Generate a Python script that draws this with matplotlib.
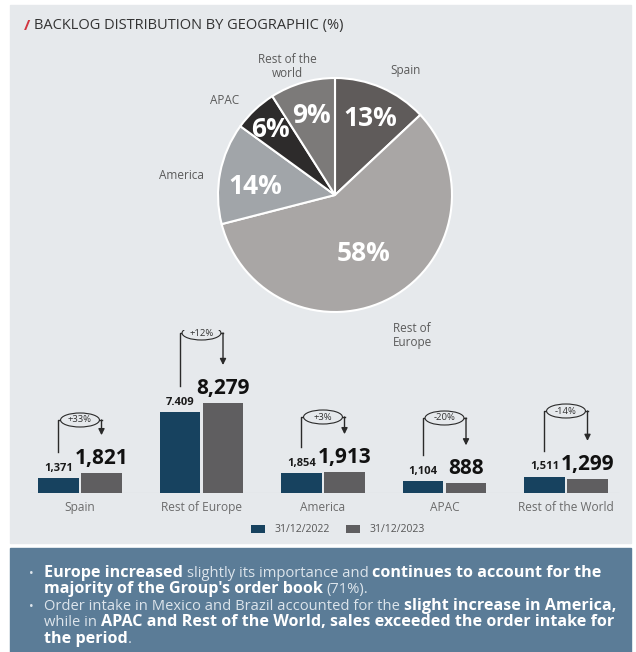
import matplotlib
matplotlib.use('Agg')
import matplotlib.pyplot as plt
from matplotlib.patches import Rectangle, Ellipse
import numpy as np

plt.rcParams['font.family'] = ['Open Sans', 'DejaVu Sans']

W, H = 636, 652

# pie: backlog share by geography (%)
pie_labels = ['Spain', 'Rest of\nEurope', 'America', 'APAC', 'Rest of the\nworld']
pie_shares = [13, 58, 14, 6, 9]
pie_colors = ['#5f5b5a', '#a9a6a5', '#a1a5a9', '#2d2b2b', '#7c7a79']

# bars: backlog by region
regions = ['Spain', 'Rest of Europe', 'America', 'APAC', 'Rest of the World']
backlog_2022 = [1371, 7409, 1854, 1104, 1511]
backlog_2023 = [1821, 8279, 1913, 888, 1299]
labels_2022 = ['1,371', '7.409', '1,854', '1,104', '1,511']
series_names = ['31/12/2022', '31/12/2023']
bar_colors = ['#17425f', '#5f5e60']

panel_color = '#e6e9ec'
box_color = '#5b7c97'


def fx(px):
    return px / W


def fy(py):
    return 1 - py / H


fig = plt.figure(figsize=(W / 100, H / 100), dpi=100, facecolor='white')
fig.add_artist(Rectangle((fx(10), fy(543)), 621 / W, 538 / H, transform=fig.transFigure,
                         color=panel_color, zorder=0))
fig.add_artist(Rectangle((fx(10), 0), 621 / W, 104 / H, transform=fig.transFigure,
                         color=box_color, zorder=0))

# title
fig.text(fx(24), fy(26), '/', color='#d2353f', fontsize=11, fontweight='bold', va='center')
fig.text(fx(34), fy(26), 'BACKLOG DISTRIBUTION BY GEOGRAPHIC (%)', color='#333333',
         fontsize=10.5, va='center')

# ---- pie ----
cx, cy, r = 335, 195, 117
pax = fig.add_axes([fx(cx - r), fy(cy + r), 2 * r / W, 2 * r / H])
wedges, _, autotexts = pax.pie(
    pie_shares, colors=pie_colors, startangle=90, counterclock=False,
    autopct=lambda p: f'{p:.0f}%', pctdistance=0.7,
    wedgeprops=dict(edgecolor='white', linewidth=1.5),
    textprops=dict(color='white', fontsize=19, fontweight='bold'))
pax.set_xlim(-1, 1)
pax.set_ylim(-1, 1)
autotexts[0].set_position((0.30, 0.65))
autotexts[1].set_position((0.24, -0.5))
autotexts[2].set_position((-0.68, 0.07))
autotexts[3].set_position((-0.55, 0.56))
autotexts[4].set_position((-0.20, 0.68))

outside_pos = [(0.60, 1.06), (0.66, -1.2), (-1.31, 0.17), (-0.94, 0.81), (-0.41, 1.1)]
for lab, (tx, ty) in zip(pie_labels, outside_pos):
    pax.text(tx, ty, lab, ha='center', va='center', fontsize=8.5, color='#5a5a5a',
             linespacing=1.05, clip_on=False)

# ---- bars ----
base_px, top_px = 493, 330
bax = fig.add_axes([fx(19.25), fy(base_px), 607.5 / W, (base_px - top_px) / H])
ymax = 15000
bax.set_xlim(-0.5, 4.5)
bax.set_ylim(0, ymax)
u = ymax / (base_px - top_px)  # data units per pixel

x = np.arange(len(regions))
bw, off = 0.33, 0.177
bax.bar(x - off, backlog_2022, bw, color=bar_colors[0], label=series_names[0], zorder=2)
bax.bar(x + off, backlog_2023, bw, color=bar_colors[1], label=series_names[1], zorder=2)
bax.axhline(0, xmin=0.02, xmax=0.985, color='#d3d6d9', lw=0.8, zorder=1)

bracket_px = [73, 160, 76, 75, 82]
for i, (a, b) in enumerate(zip(backlog_2022, backlog_2023)):
    bax.annotate(labels_2022[i], (i - off, a), xytext=(0, 3), textcoords='offset points',
                 ha='center', va='bottom', fontsize=8, fontweight='bold', color='#1a1a1a')
    bax.annotate(f'{b:,}', (i + off, b), xytext=(0, 3), textcoords='offset points',
                 ha='center', va='bottom', fontsize=15, fontweight='bold', color='#111111')
    h = bracket_px[i] * u
    start = a + 26 * u
    tip = b + 38 * u
    bax.plot([i - off, i - off, i + off], [start, h, h], color='#2a2a2a', lw=1, zorder=3)
    bax.annotate('', xy=(i + off, tip), xytext=(i + off, h),
                 arrowprops=dict(arrowstyle='-|>', color='#2a2a2a', lw=1,
                                 mutation_scale=9, shrinkA=0, shrinkB=0), zorder=3)
    bax.add_patch(Ellipse((i, h), 0.32, 14 * u, fc=panel_color, ec='#2a2a2a', lw=0.8,
                          zorder=4))
    change = round((b / a - 1) * 100)
    bax.text(i, h, f'{change:+d}%', ha='center', va='center', fontsize=6.8,
             color='#333333', zorder=5)

bax.set_xticks(x, regions)
bax.tick_params(axis='x', length=0, pad=6, labelsize=8.6, labelcolor='#6b6b6b')
bax.set_yticks([])
for s in bax.spines.values():
    s.set_visible(False)
bax.patch.set_alpha(0)

handles, labels = bax.get_legend_handles_labels()
fig.legend(handles, labels, loc='center', bbox_to_anchor=(fx(338), fy(530)), ncol=2,
           frameon=False, fontsize=7.5, handlelength=1.3, handleheight=0.7,
           columnspacing=1.6, handletextpad=0.9, labelcolor='#555555')

# ---- comment box ----
renderer = fig.canvas.get_renderer()
size_reg, size_bold = 10.6, 11.6
probe1 = fig.text(0, 0, 'x x', fontsize=size_reg)
probe2 = fig.text(0, 0, 'xx', fontsize=size_reg)
space_w = (probe1.get_window_extent(renderer).width - probe2.get_window_extent(renderer).width)
probe1.remove()
probe2.remove()


def rich_line(x_px, y_px, parts):
    xpos = x_px
    for k, (txt, bold) in enumerate(parts):
        if k > 0 and txt[0] not in ',.':
            xpos += space_w
        t = fig.text(fx(xpos), fy(y_px), txt, va='baseline',
                     fontsize=size_bold if bold else size_reg,
                     fontweight='bold' if bold else 'normal',
                     color='white' if bold else '#dde5ec')
        xpos += t.get_window_extent(renderer).width


lines = [
    (577, True, [('Europe increased', True), ('slightly its importance and', False),
                 ('continues to account for the', True)]),
    (593, False, [("majority of the Group's order book", True), ('(71%).', False)]),
    (610, True, [('Order intake in Mexico and Brazil accounted for the', False),
                  ('slight increase in America,', True)]),
    (626, False, [('while in', False),
                  ('APAC and Rest of the World, sales exceeded the order intake for', True)]),
    (643, False, [('the period', True), ('.', False)]),
]
for y_px, bullet, parts in lines:
    if bullet:
        fig.text(fx(29), fy(y_px), '\u2022', fontsize=9, color='#dde5ec', va='baseline')
    rich_line(44, y_px, parts)

fig.savefig('out.png', dpi=100, facecolor=fig.get_facecolor())
